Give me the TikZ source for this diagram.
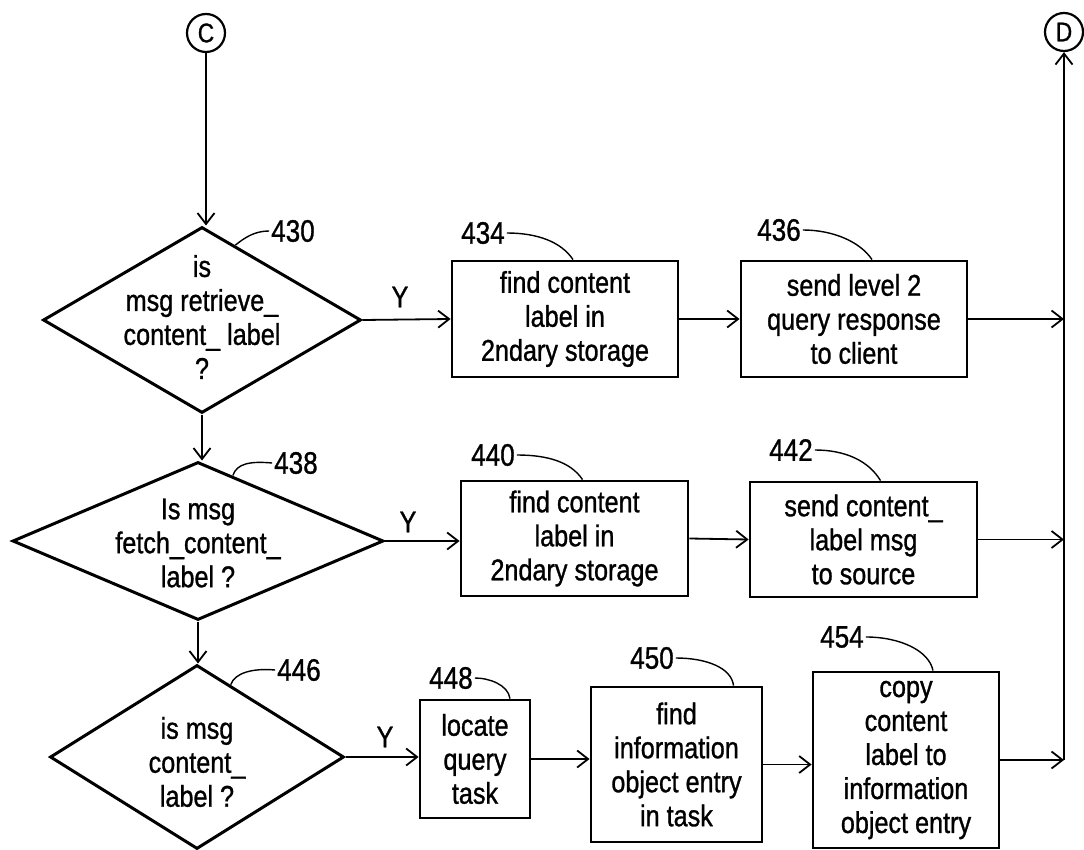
\documentclass[tikz,border=0pt]{standalone}
\usepackage{fontspec}
\setmainfont{Liberation Sans}[FakeStretch=0.84,FakeBold=1]
\usetikzlibrary{shapes.geometric,arrows.meta}
\begin{document}
\begin{tikzpicture}[x=1pt,y=-1pt,
  every node/.style={font=\fontsize{30}{34}\selectfont},
  box/.style={draw,line width=2.8pt,inner sep=0pt,align=center},
  dia/.style={draw,diamond,line width=3pt,inner sep=0pt},
  circ/.style={draw,circle,line width=2.2pt,minimum size=38pt,inner sep=0pt,font=\fontsize{27}{27}\selectfont},
  txt/.style={align=center,inner sep=0pt},
  ref/.style={inner sep=2pt,font=\fontsize{31}{31}\selectfont},
  arr/.style={line width=1.8pt,-{Straight Barb[length=11pt,width=17pt,line width=1.8pt]}},
  lead/.style={line width=1.4pt}
]
\path[fill=white] (0,0) rectangle (1084,850);
\useasboundingbox (0,0) rectangle (1084,850);

% connectors circles
\node[circ] (C) at (206,33) {C};
\node[circ] (D) at (1064,32) {D};

% diamonds
\node[dia,minimum width=318pt,minimum height=186pt] (d1) at (202,320) {};
\node[txt] (t1) at (202,317) {is\\msg retrieve\_\\content\_ label\\?};
\node[dia,minimum width=371pt,minimum height=158pt] (d2) at (198,541) {};
\node[txt] (t2) at (198,543) {Is msg\\fetch\_content\_\\label ?};
\node[dia,minimum width=294pt,minimum height=184pt] (d3) at (197,757) {};
\node[txt] (t3) at (197,762) {is msg\\content\_\\label ?};

% boxes
\node[box,minimum width=226pt,minimum height=116pt] (b434) at (565,319) {find content\\label in\\2ndary storage};
\node[box,minimum width=226pt,minimum height=116pt] (b436) at (854,319) {send level 2\\query response\\to client};
\node[box,minimum width=227pt,minimum height=115pt] (b440) at (574.5,538.5) {find content\\label in\\2ndary storage};
\node[box,minimum width=227pt,minimum height=115pt] (b442) at (863.5,539.5) {send content\_\\label msg\\to source};
\node[box,minimum width=110pt,minimum height=118pt] (b448) at (475,759) {locate\\query\\task};
\node[box,minimum width=171pt,minimum height=155pt] (b450) at (676.5,764.5) {find\\information\\object entry\\in task};
\node[box,minimum width=186pt,minimum height=176pt] (b454) at (906,760) {copy\\content\\label to\\information\\object entry};

% Y labels
\node[inner sep=0pt] (y1) at (400,297) {Y};
\node[inner sep=0pt] (y2) at (408,522) {Y};
\node[inner sep=0pt] (y3) at (385,737) {Y};

% reference numerals
\node[ref] (l430) at (293,231) {430};
\node[ref] (l438) at (296,463) {438};
\node[ref] (l446) at (299,670) {446};
\node[ref] (l434) at (483,233) {434};
\node[ref] (l436) at (779,230) {436};
\node[ref] (l440) at (493,455) {440};
\node[ref] (l442) at (791,450) {442};
\node[ref] (l448) at (451,678) {448};
\node[ref] (l450) at (652,658) {450};
\node[ref] (l454) at (842,637) {454};

% leaders
\draw[lead] (l430.west) .. controls +(-14,0) and +(10,-8) .. (d1.66);
\draw[lead] (l438.west) .. controls +(-22,-2) and +(4,-12) .. (d2.62);
\draw[lead] (l446.west) .. controls +(-22,-2) and +(4,-12) .. (d3.65);
\draw[lead] (l434.east) .. controls +(30,0) and +(-12,-18) .. ([xshift=8pt]b434.north);
\draw[lead] (l436.east) .. controls +(30,0) and +(-12,-18) .. ([xshift=18pt]b436.north);
\draw[lead] (l440.east) .. controls +(30,0) and +(-12,-18) .. ([xshift=8pt]b440.north);
\draw[lead] (l442.east) .. controls +(30,0) and +(-12,-20) .. ([xshift=17pt]b442.north);
\draw[lead] (l448.east) .. controls +(14,0) and +(-2,-14) .. ([xshift=35pt]b448.north);
\draw[lead] (l450.east) .. controls +(30,0) and +(-2,-18) .. ([xshift=57pt]b450.north);
\draw[lead] (l454.east) .. controls +(34,0) and +(-4,-20) .. ([xshift=27pt]b454.north);

% flow
\draw[arr] (C.south) -- (C.south |- d1.north);
\draw[arr] (d1.south) -- (d1.south |- d2.north);
\draw[arr] (d2.south) -- (d2.south |- d3.north);

\draw[arr] (d1.east) -- (b434.west);
\draw[arr] (b434.east) -- (b436.west);
\draw[arr] (b436.east) -- (b436.east -| D.south);

\draw[arr] (d2.east) -- (d2.east -| b440.west);
\draw[arr] (b440.east) -- (b442.west);
\draw[arr] (b442.east) -- (b442.east -| D.south);

\draw[arr] (d3.east) -- (d3.east -| b448.west);
\draw[arr] (b448.east) -- (b448.east -| b450.west);
\draw[arr] (b450.east) -- (b450.east -| b454.west);
\draw[arr] (b454.east) -- (b454.east -| D.south);

\draw[arr] (b454.east -| D.south) -- (D.south);
\end{tikzpicture}
\end{document}
